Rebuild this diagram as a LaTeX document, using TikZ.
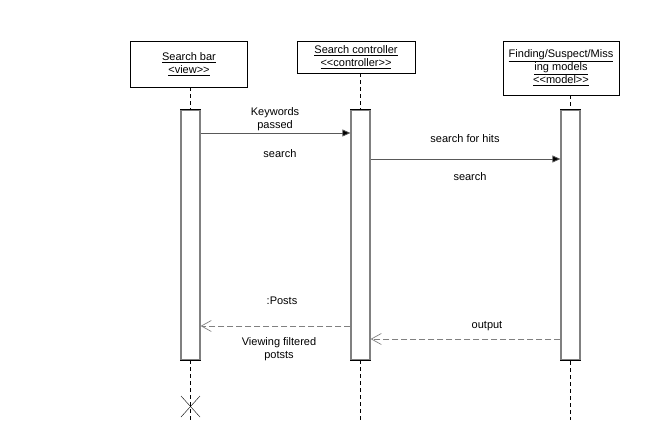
\documentclass[tikz,border=0pt]{standalone}
\usepackage{fontspec}
\setmainfont{Liberation Sans}
\usetikzlibrary{arrows.meta}

\tikzset{
  objbox/.style={draw=black,fill=white,align=center,inner sep=1pt},
  actbar/.style={draw=gray,line width=1.2pt,fill=white,minimum width=19,minimum height=250,inner sep=0pt},
  lifeline/.style={dash pattern=on 4pt off 3pt,thin},
  callmsg/.style={gray!70!black,line width=0.8pt,-{Triangle[length=8pt,width=7pt,fill=black]}},
  replymsg/.style={gray,line width=0.8pt,dash pattern=on 6pt off 3pt,-{Straight Barb[length=10pt,width=11pt,line width=0.7pt]}},
  msglabel/.style={align=center,inner sep=0pt,font=\fontsize{11}{13}\selectfont}
}

\begin{document}
\begin{tikzpicture}[x=1pt,y=-1pt,font=\fontsize{11}{13}\selectfont]
        \useasboundingbox (0,0) rectangle (652,438); % page size of the reference

        % objects on top
        \node[objbox,minimum width=117,minimum height=46] (view) at (189,64) {\underline{Search bar}\\\underline{<view>{}>}};
        \node[objbox,minimum width=118,minimum height=32] (ctrl) at (356,57) {\underline{Search controller}\\\underline{<{}<controller>{}>}};
        \node[objbox,minimum width=116,minimum height=54] (model) at (561,68) {\underline{Finding/Suspect/Miss}\\\underline{ing models}\\\underline{<{}<model>{}>}};

        % lifelines
        \coordinate (viewend) at (190.5,420);
        \coordinate (ctrlend) at (360.5,420);
        \coordinate (modelend) at (570.5,420);
        \draw[lifeline] (190.5,64|-view.south) -- (viewend);
        \draw[lifeline] (360.5,57|-ctrl.south) -- (ctrlend);
        \draw[lifeline] (570.5,68|-model.south) -- (modelend);

        % activation bars
        \foreach \n/\x in {viewbar/190.5,ctrlbar/360.5,modelbar/570.5}{
          \node[actbar] (\n) at (\x,235) {};
          \draw[line width=1.2pt] (\n.north west) -- (\n.north east); % black ends
          \draw[line width=1.2pt] (\n.south west) -- (\n.south east);
        }

        % calls
        \draw[callmsg] (viewbar.east|-0,133) -- (ctrlbar.west|-0,133);
        \node[msglabel] (kw) at (275,119) {Keywords\\passed};
        \node[msglabel] (s1) at (280,154) {search};
        \draw[callmsg] (ctrlbar.east|-0,159) -- (modelbar.west|-0,159);
        \node[msglabel] (hits) at (465,139) {search for hits};
        \node[msglabel] (s2) at (470,177) {search};

        % replies
        \draw[replymsg] (ctrlbar.west|-0,326) -- (viewbar.east|-0,326);
        \node[msglabel] (posts) at (282,301) {:Posts};
        \node[msglabel] (viewing) at (279,349) {Viewing filtered\\potsts};
        \draw[replymsg] (modelbar.west|-0,339) -- (ctrlbar.east|-0,339);
        \node[msglabel] (out) at (487,326) {output};

        % destruction of the view
        \draw[thin] (181,396) -- (200,417);
        \draw[thin] (181,417) -- (200,396);
\end{tikzpicture}
\end{document}
